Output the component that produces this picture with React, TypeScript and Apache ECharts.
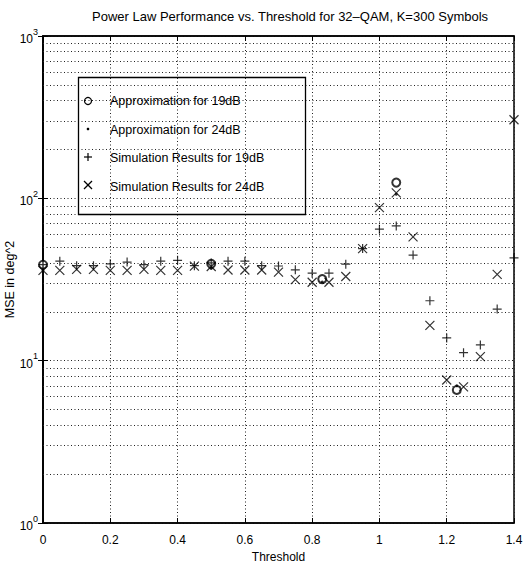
import React, { useEffect, useRef } from "react";
import * as echarts from "echarts";

const TITLE = "Power Law Performance vs. Threshold for 32\u2013QAM, K=300 Symbols";
const X_NAME = "Threshold";
const Y_NAME = "MSE in deg^2";
const X_TICKS = [0, 0.2, 0.4, 0.6, 0.8, 1, 1.2, 1.4];
const Y_EXPONENTS = [0, 1, 2, 3];
const MINOR_GRID = [2, 3, 4, 5, 6, 7, 8, 9, 20, 30, 40, 50, 60, 70, 80, 90, 200, 300, 400, 500, 600, 700, 800, 900];

const SERIES_NAMES = [
  "Approximation for 19dB",
  "Approximation for 24dB",
  "Simulation Results for 19dB",
  "Simulation Results for 24dB",
];

const APPROX_THRESHOLDS = [0, 0.5, 0.83, 1.05, 1.23];
const APPROX_19 = [39, 39.5, 31.8, 125, 6.6];
const APPROX_24 = [36, 37, 30.5, 106, 7.0];

const SIM_THRESHOLDS = [
  0, 0.05, 0.1, 0.15, 0.2, 0.25, 0.3, 0.35, 0.4, 0.45, 0.5, 0.55, 0.6, 0.65, 0.7,
  0.75, 0.8, 0.85, 0.9, 0.95, 1, 1.05, 1.1, 1.15, 1.2, 1.25, 1.3, 1.35, 1.4,
];
const SIM_19 = [
  39, 41, 38.5, 38.5, 39.5, 40.5, 39, 41, 41.5, 38.5, 40, 41, 41, 38.5, 38.3,
  36.3, 34.6, 34.6, 39.3, 49, 64.6, 67.6, 44.7, 23.4, 13.8, 11.2, 12.5, 20.8, 43,
];
const SIM_24 = [
  36, 36, 36.5, 36.5, 36, 36, 36.5, 36, 36, 38.2, 38, 36.2, 36.2, 36.2, 35.1,
  31.6, 30.4, 30.4, 33, 49, 87.7, 108, 57.9, 16.5, 7.6, 6.9, 10.6, 34, 305,
];

const PLUS = "path://M5,0 L5,10 M0,5 L10,5";
const CROSS = "path://M0,0 L10,10 M0,10 L10,0";
const FONT = "Liberation Sans, Arial, Helvetica, sans-serif";

function pairs(xs: number[], ys: number[]) {
  return xs.map((x, i) => [x, ys[i]]);
}

export default function App() {
  const ref = useRef<HTMLDivElement>(null);
  useEffect(() => {
    if (!ref.current) return;
    const chart = echarts.init(ref.current, undefined, { renderer: "svg" });
    const dotted = { color: "#222", width: 1, type: [1, 2.5] as any };
    const legendTop = 89;
    const rowH = 28;
    const firstRow = 101;
    const iconX = 88;
    const iconStroke = { stroke: "#000", lineWidth: 1.2, fill: "none" };
    const cy = (k: number) => firstRow + k * rowH;
    const legendIcons: any[] = [
      { type: "circle", shape: { cx: iconX, cy: cy(0), r: 3.5 }, style: iconStroke, z: 100 },
      { type: "circle", shape: { cx: iconX, cy: cy(1), r: 1.3 }, style: { fill: "#000" }, z: 100 },
      {
        type: "group",
        z: 100,
        children: [
          { type: "line", shape: { x1: iconX - 4, y1: cy(2), x2: iconX + 4, y2: cy(2) }, style: iconStroke },
          { type: "line", shape: { x1: iconX, y1: cy(2) - 4, x2: iconX, y2: cy(2) + 4 }, style: iconStroke },
          { type: "line", shape: { x1: iconX - 4, y1: cy(3) - 4, x2: iconX + 4, y2: cy(3) + 4 }, style: iconStroke },
          { type: "line", shape: { x1: iconX - 4, y1: cy(3) + 4, x2: iconX + 4, y2: cy(3) - 4 }, style: iconStroke },
        ],
      },
    ];
    const option: any = {
      animation: false,
      backgroundColor: "#fff",
      textStyle: { fontFamily: FONT, color: "#000" },
      title: {
        text: TITLE,
        left: 87,
        top: 5,
        textStyle: { fontSize: 13, fontWeight: "normal", fontFamily: FONT, color: "#000" },
      },
      grid: {
        left: 43,
        right: 14,
        top: 36,
        bottom: 42,
        show: true,
        borderColor: "#000",
        borderWidth: 1.5,
        containLabel: false,
        outerBoundsMode: "none",
      },
      legend: {
        orient: "vertical",
        left: 77,
        top: legendTop,
        itemWidth: 22,
        itemHeight: 12,
        itemGap: 15,
        textStyle: { fontSize: 12.5, fontFamily: FONT, color: "#000", padding: [0, 0, 0, 0] },
        data: SERIES_NAMES.map((n) => ({ name: n, icon: "rect", itemStyle: { opacity: 0 } })),
      },
      xAxis: [
        {
          type: "value",
          min: 0,
          max: 1.4,
          interval: 0.2,
          name: X_NAME,
          nameLocation: "middle",
          nameGap: 28,
          nameMoveOverlap: false,
          nameTextStyle: { fontSize: 12, fontFamily: FONT, color: "#000" },
          axisLine: { lineStyle: { color: "#000", width: 1.5 } },
          axisTick: { inside: true, length: 5, lineStyle: { color: "#000" } },
          axisLabel: {
            fontSize: 12,
            color: "#000",
            margin: 11,
            formatter: (v: number) => (X_TICKS.some((t) => Math.abs(t - v) < 1e-9) ? String(+v.toFixed(1)) : ""),
          },
          splitLine: { show: true, lineStyle: dotted },
        },
        {
          type: "value",
          position: "top",
          min: 0,
          max: 1.4,
          interval: 0.2,
          axisLine: { lineStyle: { color: "#000", width: 1.5 } },
          axisTick: { inside: true, length: 5, lineStyle: { color: "#000" } },
          axisLabel: { show: false },
          splitLine: { show: false },
        },
      ],
      yAxis: [
        {
          type: "log",
          logBase: 10,
          min: 1,
          max: 1000,
          name: Y_NAME,
          nameLocation: "middle",
          nameGap: 27,
          nameMoveOverlap: false,
          nameTextStyle: { fontSize: 12.5, fontFamily: FONT, color: "#000" },
          axisLine: { lineStyle: { color: "#000", width: 1.5 } },
          axisTick: { inside: true, length: 5, lineStyle: { color: "#000" } },
          axisLabel: {
            margin: 5,
            formatter: (v: number) => {
              const e = Math.round(Math.log10(v));
              return Y_EXPONENTS.includes(e) ? "{b|10}{s|" + e + "}" : "";
            },
            rich: {
              b: { fontSize: 12, fontFamily: FONT, color: "#000", lineHeight: 18, verticalAlign: "bottom" },
              s: { fontSize: 9, fontFamily: FONT, color: "#000", verticalAlign: "top" },
            },
          },
          splitLine: { show: true, lineStyle: dotted },
        },
        {
          type: "log",
          logBase: 10,
          min: 1,
          max: 1000,
          position: "right",
          axisLine: { lineStyle: { color: "#000", width: 1.5 } },
          axisTick: { inside: true, length: 5, lineStyle: { color: "#000" } },
          axisLabel: { show: false },
          splitLine: { show: false },
        },
      ],
      graphic: [
        {
          type: "rect",
          left: 76,
          top: 75,
          shape: { width: 227, height: 137 },
          style: { fill: "none", stroke: "#000", lineWidth: 1.3 },
          z: 100,
        },
        ...legendIcons,
      ],
      series: [
        {
          name: SERIES_NAMES[0],
          type: "scatter",
          symbol: "emptyCircle",
          symbolSize: 8,
          itemStyle: { color: "#000", borderColor: "#000", borderWidth: 1.2 },
          data: pairs(APPROX_THRESHOLDS, APPROX_19),
          markLine: {
            silent: true,
            symbol: "none",
            label: { show: false },
            lineStyle: dotted,
            data: MINOR_GRID.map((v) => ({ yAxis: v })),
            z: 1,
          },
        },
        {
          name: SERIES_NAMES[1],
          type: "scatter",
          symbol: "circle",
          symbolSize: 3,
          itemStyle: { color: "#000" },
          data: pairs(APPROX_THRESHOLDS, APPROX_24),
        },
        {
          name: SERIES_NAMES[2],
          type: "scatter",
          symbol: PLUS,
          symbolSize: 9,
          itemStyle: { color: "#000", borderColor: "#000", borderWidth: 1.2 },
          data: pairs(SIM_THRESHOLDS, SIM_19),
        },
        {
          name: SERIES_NAMES[3],
          type: "scatter",
          symbol: CROSS,
          symbolSize: 9,
          itemStyle: { color: "#000", borderColor: "#000", borderWidth: 1.2 },
          data: pairs(SIM_THRESHOLDS, SIM_24),
        },
      ],
    };
    chart.setOption(option);
    return () => chart.dispose();
  }, []);
  return (
    <div
      ref={ref}
      style={{ position: "fixed", left: 0, top: 0, width: 528, height: 565, background: "#fff" }}
    />
  );
}
